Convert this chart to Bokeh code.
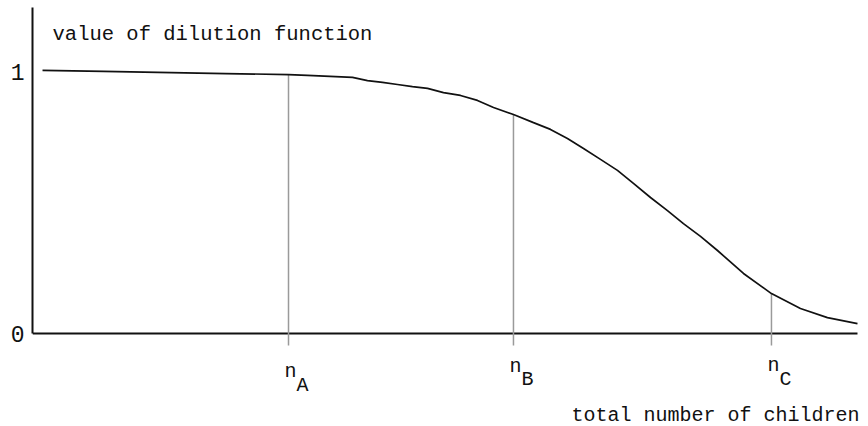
from bokeh.plotting import figure
from bokeh.models import Range1d, FixedTicker, Label, ColumnDataSource
from bokeh.embed import file_html
from bokeh.resources import INLINE

# ---- data (x: total number of children, arbitrary units 0..100)
children = [1.21, 8.57, 23.31, 30.92, 33.21, 38.65, 40.46, 42.27, 44.08, 45.89,
            47.71, 49.64, 51.69, 53.74, 55.68, 58.09, 60.51, 62.56, 64.61, 66.55,
            68.60, 70.65, 72.58, 74.64, 76.69, 78.62, 80.68, 82.73, 85.87, 89.25,
            92.75, 96.01, 99.64]
dilution = [1.008, 1.004, 0.996, 0.992, 0.989, 0.981, 0.969, 0.962, 0.954, 0.946,
            0.939, 0.923, 0.912, 0.893, 0.866, 0.839, 0.808, 0.782, 0.747, 0.709,
            0.667, 0.625, 0.575, 0.521, 0.471, 0.421, 0.372, 0.318, 0.230, 0.153,
            0.096, 0.061, 0.038]
marker_names = ["A", "B", "C"]
marker_x = [30.92, 58.09, 89.25]
marker_y = [0.992, 0.839, 0.153]
y_ticks = [0, 1]
y_tick_labels = ["0", "1"]
y_title = "value of dilution function"
x_title = "total number of children"

FONT = "Liberation Mono"
INK = "#111111"
GRAY = "#9a9a9a"
Y_TOP = 1.249
Y_BOTTOM = -0.3563
X_END = 100.97

p = figure(width=868, height=426, output_backend="svg", toolbar_location=None,
           title=None, x_range=Range1d(0, X_END), y_range=Range1d(Y_BOTTOM, Y_TOP),
           min_border=0, min_border_left=32, min_border_right=0,
           min_border_top=7, min_border_bottom=0)
p.outline_line_color = None
p.background_fill_color = "white"
p.border_fill_color = "white"
p.xgrid.visible = False
p.ygrid.visible = False
p.xaxis.visible = False

# y axis (line only from 0 up to the top)
ya = p.yaxis[0]
ya.bounds = (0, Y_TOP)
ya.ticker = FixedTicker(ticks=y_ticks)
ya.major_label_overrides = {t: s for t, s in zip(y_ticks, y_tick_labels)}
ya.major_tick_out = 0
ya.major_tick_in = 0
ya.minor_tick_out = 0
ya.minor_tick_in = 0
ya.axis_line_width = 2
ya.axis_line_color = INK
ya.major_label_text_font = FONT
ya.major_label_text_font_size = "23px"
ya.major_label_text_color = INK
ya.major_label_standoff = 8

# x axis line at value 0, running to the end of the curve
p.segment(x0=[0], y0=[0], x1=[children[-1]], y1=[0], line_color=INK, line_width=2)

# gray verticals from just below the axis up to the curve
tick_len = 12 / 261
src = ColumnDataSource(dict(x=marker_x, y=marker_y, y0=[-tick_len] * len(marker_x)))
p.segment(x0="x", y0="y0", x1="x", y1="y", source=src,
          line_color=GRAY, line_width=1.5)

# the curve
p.line(children, dilution, line_color=INK, line_width=1.7)

# y title inside the plot
p.add_layout(Label(x=2.42, y=1.146, text=y_title, text_font=FONT,
                   text_font_size="20.5px", text_color=INK,
                   text_baseline="alphabetic", text_align="left"))

# n_A, n_B, n_C labels below the axis
n_base = [-0.145, -0.126, -0.122]
sub_base = [-0.199, -0.176, -0.176]
for name, xv, nb, sb in zip(marker_names, marker_x, n_base, sub_base):
    p.add_layout(Label(x=xv, y=nb, text="n", text_font=FONT, text_font_size="20px",
                       text_color=INK, text_align="center",
                       text_baseline="alphabetic", x_offset=2))
    p.add_layout(Label(x=xv, y=sb, text=name, text_font=FONT, text_font_size="20px",
                       text_color=INK, text_align="left",
                       text_baseline="alphabetic", x_offset=8))

# x title, right-aligned near the end of the axis
p.add_layout(Label(x=99.88, y=-0.314, text=x_title, text_font=FONT,
                   text_font_size="20px", text_color=INK,
                   text_align="right", text_baseline="alphabetic"))

open("out.html", "w").write(file_html(p, INLINE))
